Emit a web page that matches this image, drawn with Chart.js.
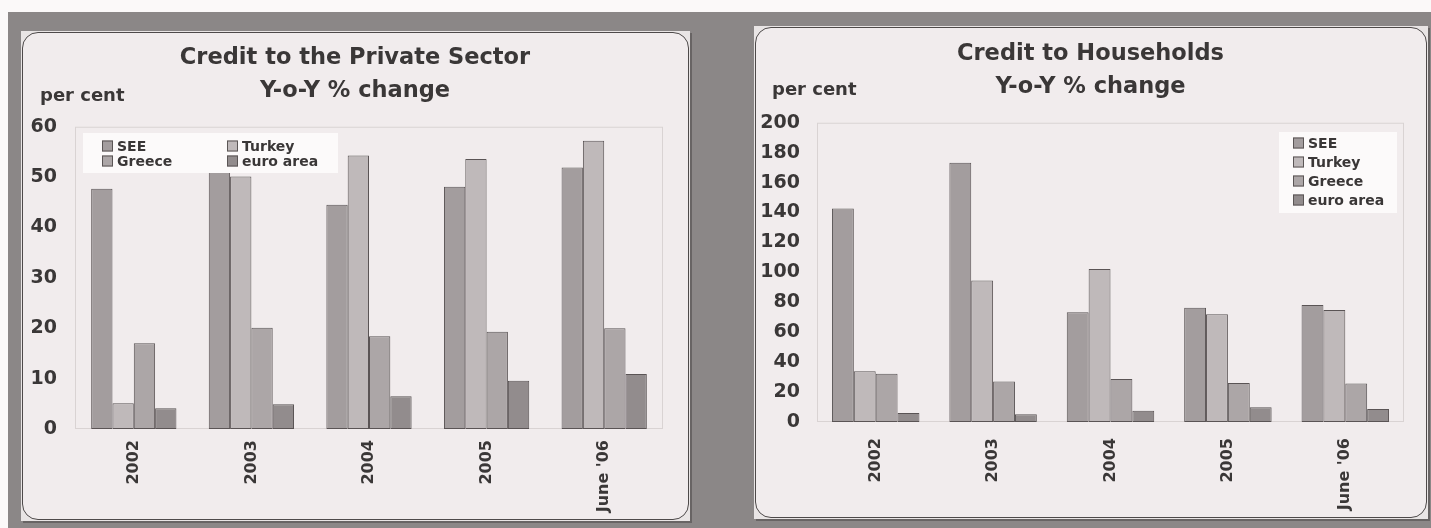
<!DOCTYPE html>
<html>
<head>
<meta charset="utf-8">
<script src="https://cdn.jsdelivr.net/npm/chart.js@4/dist/chart.umd.min.js"></script>
<style>
  html, body { margin: 0; padding: 0; }
  body { width: 1431px; height: 528px; position: relative; overflow: hidden; background: #8b8787; }
  .strip { position: absolute; background: #fbf9f9; }
  .outer { position: absolute; background: #e9e5e5; box-shadow: 2px 2px 0 #686464; }
  .inner { position: absolute; left: 1px; top: 1px; right: 1px; bottom: 1px;
           border: 1px solid #4e4a4a; border-radius: 16px; background: #f1eced; }
  .wrap { position: absolute; }
</style>
</head>
<body>
<div class="strip" style="left:0;top:0;width:1431px;height:12px"></div>
<div class="strip" style="left:0;top:0;width:8px;height:528px"></div>

<div class="outer" style="left:21px;top:31px;width:669px;height:490px"><div class="inner"></div></div>
<div class="outer" style="left:754px;top:26px;width:674px;height:493px"><div class="inner"></div></div>

<div class="wrap" style="left:22px;top:32px;width:666px;height:487px"><canvas id="privateChart"></canvas></div>
<div class="wrap" style="left:755px;top:27px;width:671px;height:490px"><canvas id="householdChart"></canvas></div>

<script>
const categories = ["2002", "2003", "2004", "2005", "June '06"];
const seriesNames = ["SEE", "Turkey", "Greece", "euro area"];

// Credit to the Private Sector, y-o-y % change
const privSEE    = [47.7, 51.5, 44.5, 48.1, 51.9];
const privTurkey = [5.1, 50.1, 54.3, 53.6, 57.2];
const privGreece = [17.0, 20.1, 18.4, 19.3, 20.0];
const privEuro   = [4.1, 4.9, 6.5, 9.6, 10.9];

// Credit to Households, y-o-y % change
const hhSEE    = [142.7, 173.3, 73.3, 76.4, 78.2];
const hhTurkey = [34.0, 94.5, 102.2, 72.0, 74.9];
const hhGreece = [32.3, 27.1, 28.7, 26.0, 25.8];
const hhEuro   = [6.0, 5.1, 7.5, 9.8, 8.7];

const privTicks = [0, 10, 20, 30, 40, 50, 60];
const hhTicks = [0, 20, 40, 60, 80, 100, 120, 140, 160, 180, 200];

const barColors = ["#a39d9e", "#bfb9ba", "#aca6a7", "#928c8d"];
const textColor = "#3a3737";
const fontFamily = "'DejaVu Sans', 'Liberation Sans', Arial, sans-serif";

// faint plot-area frame
const framePlugin = {
    id: "frame",
    beforeDatasetsDraw(chart, args, opts) {
        const a = chart.chartArea;
        const ctx = chart.ctx;
        ctx.save();
        ctx.strokeStyle = opts.color;
        ctx.lineWidth = 1;
        ctx.strokeRect(a.left + 0.5, a.top + 0.5, a.width - 1, a.height - 1);
        ctx.restore();
    }
};

// legend drawn inside the plot on a white box
const boxLegend = {
    id: "boxLegend",
    afterDatasetsDraw(chart, args, o) {
        const ctx = chart.ctx;
        ctx.save();
        ctx.fillStyle = "#fcfafa";
        ctx.fillRect(o.x, o.y, o.w, o.h);
        ctx.font = o.font;
        ctx.textBaseline = "middle";
        chart.data.datasets.forEach(function(ds, i) {
            const col = i % o.cols;
            const row = Math.floor(i / o.cols);
            const sx = o.x + o.padX + col * o.colW;
            const sy = o.y + o.padY + row * o.rowH;
            ctx.fillStyle = ds.backgroundColor;
            ctx.fillRect(sx, sy - 5.5, 11, 11);
            ctx.strokeStyle = "#5a5555";
            ctx.lineWidth = 1;
            ctx.strokeRect(sx + 0.5, sy - 5, 10, 10);
            ctx.fillStyle = textColor;
            ctx.fillText(ds.label, sx + 15, sy + 1);
        });
        ctx.restore();
    }
};

// "per cent" unit label above the y axis
const unitLabel = {
    id: "unitLabel",
    afterDraw(chart, args, o) {
        const ctx = chart.ctx;
        ctx.save();
        ctx.font = o.font;
        ctx.fillStyle = textColor;
        ctx.textBaseline = "middle";
        ctx.textAlign = "left";
        ctx.fillText(o.text, o.x, o.y);
        ctx.restore();
    }
};

function makeDatasets(values, catPct) {
    return values.map(function(vals, i) {
        return {
            label: seriesNames[i],
            data: vals,
            backgroundColor: barColors[i],
            borderColor: "#5a5455",
            borderWidth: 1,
            borderSkipped: false,
            barPercentage: 1.0,
            categoryPercentage: catPct
        };
    });
}

function makeChart(id, title, values, yTicks, cfg) {
    const ctx = document.getElementById(id).getContext("2d");
    return new Chart(ctx, {
        type: "bar",
        data: {
            labels: categories,
            datasets: makeDatasets(values, cfg.catPct)
        },
        options: {
            responsive: true,
            maintainAspectRatio: false,
            animation: false,
            devicePixelRatio: 1,
            layout: { padding: 0 },
            plugins: {
                legend: { display: false },
                tooltip: { enabled: false },
                title: {
                    display: true,
                    text: title,
                    color: textColor,
                    font: { family: fontFamily, size: 22.5, weight: "bold", lineHeight: 1.45 },
                    padding: { top: cfg.titleTop, bottom: cfg.titleBottom }
                },
                frame: { color: "#d9d3d3" },
                boxLegend: cfg.legend,
                unitLabel: { text: "per cent", x: cfg.unitX, y: cfg.unitY, font: "bold 18px " + fontFamily }
            },
            scales: {
                x: {
                    grid: { display: false },
                    border: { display: false },
                    ticks: {
                        color: textColor,
                        font: { family: fontFamily, size: 16, weight: "bold" },
                        minRotation: 90,
                        maxRotation: 90,
                        padding: cfg.xPad,
                        autoSkip: false
                    },
                    afterFit: function(scale) { scale.height = cfg.xHeight; }
                },
                y: {
                    min: yTicks[0],
                    max: yTicks[yTicks.length - 1],
                    grid: { display: false, drawTicks: false },
                    border: { display: false },
                    afterBuildTicks: function(scale) {
                        scale.ticks = yTicks.map(function(v) { return { value: v }; });
                    },
                    ticks: {
                        color: textColor,
                        font: { family: fontFamily, size: 19, weight: "bold" },
                        padding: cfg.yPad
                    },
                    afterFit: function(scale) { scale.width = cfg.yWidth; }
                },
                // empty right-hand scale: only keeps a margin right of the plot
                pad: {
                    type: "linear",
                    position: "right",
                    display: true,
                    grid: { display: false, drawTicks: false },
                    border: { display: false },
                    ticks: { display: false },
                    afterFit: function(scale) { scale.width = cfg.padRight; }
                }
            }
        },
        plugins: [framePlugin, boxLegend, unitLabel]
    });
}

makeChart("privateChart",
    ["Credit to the Private Sector", "Y-o-Y % change"],
    [privSEE, privTurkey, privGreece, privEuro],
    privTicks,
    {
        catPct: 0.725, padRight: 25, titleTop: 10, titleBottom: 19.5, xHeight: 90, xPad: 3,
        yWidth: 53, yPad: 18, unitX: 18, unitY: 64,
        legend: { x: 61, y: 101, w: 255, h: 40, cols: 2, padX: 19, padY: 13, rowH: 15, colW: 125,
                  font: "bold 14px " + fontFamily }
    });

makeChart("householdChart",
    ["Credit to Households", "Y-o-Y % change"],
    [hhSEE, hhTurkey, hhGreece, hhEuro],
    hhTicks,
    {
        catPct: 0.745, padRight: 22, titleTop: 11, titleBottom: 19.5, xHeight: 95, xPad: 8,
        yWidth: 62, yPad: 17, unitX: 17, unitY: 63,
        legend: { x: 524, y: 105, w: 118, h: 81, cols: 1, padX: 14, padY: 11, rowH: 19, colW: 0,
                  font: "bold 14px " + fontFamily }
    });
</script>
</body>
</html>
